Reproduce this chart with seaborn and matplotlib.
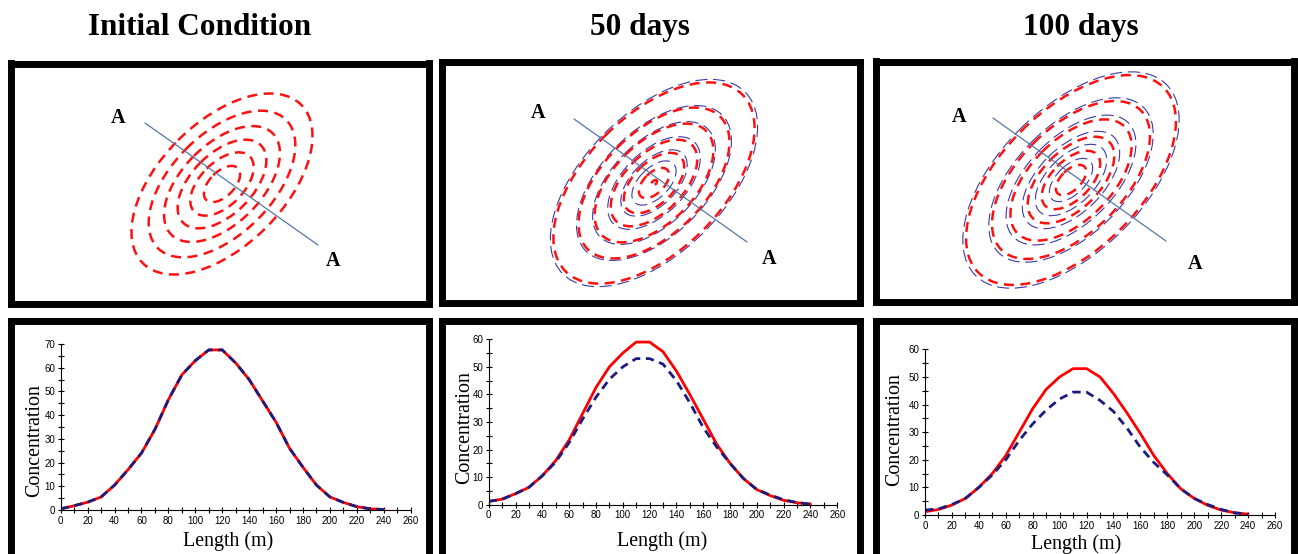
import matplotlib
matplotlib.use("Agg")
import matplotlib.pyplot as plt
from matplotlib.patches import Ellipse
from matplotlib.ticker import MultipleLocator
import seaborn as sns

# ---- data ----
titles = ["Initial Condition", "50 days", "100 days"]

# concentration profiles along section A-A
length_m = [0, 10, 20, 30, 40, 50, 60, 70, 80, 90, 100, 110, 120,
            130, 140, 150, 160, 170, 180, 190, 200, 210, 220, 230, 240]
init_red = [0.5, 1.8, 3.3, 5.5, 10.5, 17, 24, 34, 46.5, 57, 63, 67.5, 67.5,
            62, 55, 46, 37, 26, 18, 10.5, 5.5, 3.2, 1.4, 0.5, 0.2]
init_blue = [0.5, 1.8, 3.3, 5.5, 10.5, 17, 24, 34, 46.5, 57, 63, 67.5, 67.5,
             62, 55, 46, 37, 26, 18, 10.5, 5.5, 3.2, 1.4, 0.5, 0.2]
d50_red = [1.2, 2, 4, 6.3, 10.5, 16, 23.5, 33, 42.5, 50, 55, 59, 59,
           55.5, 48.5, 40, 31, 22, 15, 9.5, 5.5, 3.3, 1.6, 0.7, 0.2]
d50_blue = [1.2, 2, 4, 6.3, 10.5, 15.5, 22.5, 31, 39, 45.5, 50, 53, 53,
            51, 45, 37, 28, 21, 15, 9.5, 5.5, 3.5, 1.8, 0.8, 0.2]
d100_red = [1.2, 2, 3.6, 6, 10, 15, 21.5, 30, 38.5, 45.5, 50, 53, 53,
            50, 44, 37, 29.5, 21.5, 15, 9.5, 6, 3.5, 1.8, 0.8, 0.3]
d100_blue = [1.8, 2.2, 3.8, 6, 10, 14.5, 20, 27, 33, 38, 42, 44.5, 44.5,
             41.5, 37.5, 31.5, 24.5, 19, 14.5, 9.5, 6, 3.8, 2, 0.8, 0.3]
y_max = [70, 60, 60]

# plume contour maps (image pixel coordinates)
plume_cx = [222, 654, 1071]
plume_cy = [184, 183, 180]
plume_a = [112, 125, 135]      # semi-major axis of outer contour
plume_b = [62, 68, 72]         # semi-minor axis of outer contour
plume_angle = [-45, -45, -45]
red_scales = [[1.0, 0.81, 0.64, 0.49, 0.35, 0.20],
              [1.0, 0.75, 0.59, 0.43, 0.30, 0.15, 0.03],
              [0.97, 0.73, 0.56, 0.40, 0.27, 0.14]]
blue_scales = [[],
               [1.03, 0.77, 0.61, 0.46, 0.33, 0.22],
               [1.0, 0.76, 0.60, 0.45, 0.33, 0.20]]
section_x = [[145, 318], [574, 747], [993, 1166]]
section_y = [[123, 245], [119, 242], [118, 241]]
label_a_x = [[118, 333], [538, 769], [959, 1195]]
label_a_y = [[118, 261], [113, 259], [117, 264]]

# ---- layout (pixels) ----
W, H = 1298, 554
sns.set_theme(style="white")
plt.rcParams["font.family"] = ["Liberation Serif", "DejaVu Serif"]
plt.rcParams["text.color"] = "black"
plt.rcParams["axes.labelcolor"] = "black"
plt.rcParams["xtick.color"] = "black"
plt.rcParams["ytick.color"] = "black"

fig = plt.figure(figsize=(W / 100, H / 100), dpi=100)
fig.patch.set_facecolor("white")


def px_axes(x0, y0, x1, y1, **kw):
    return fig.add_axes([x0 / W, 1 - y1 / H, (x1 - x0) / W, (y1 - y0) / H], **kw)


def frame(ax):
    ax.set_xticks([])
    ax.set_yticks([])
    ax.set_facecolor("white")
    for s in ax.spines.values():
        s.set_visible(True)
        s.set_color("black")
        s.set_linewidth(5.0)
        s.set_capstyle("projecting")


top_boxes = [(10.5, 63.5, 428.5, 303.5), (442.5, 61.5, 860.5, 302.5),
             (875.5, 61.5, 1293.5, 301.5)]
bot_boxes = [(10.5, 320.5, 428.5, 620), (442.5, 321, 860.5, 620),
             (875.5, 321, 1293.5, 620)]
plot_boxes = [(60.7, 344, 410.7, 510), (488.7, 339.3, 837.3, 504.7),
              (925, 349.3, 1275, 515)]
title_x = [200, 640, 1081]
ylab_pos = [(-0.046, 0.416), (-0.043, 0.464), (-0.061, 0.513)]
xlab_pos = [(0.478, -0.127), (0.497, -0.16), (0.431, -0.115)]

profiles = [(init_red, init_blue), (d50_red, d50_blue), (d100_red, d100_blue)]

for i in range(3):
    fig.text(title_x[i] / W, 1 - 35 / H, titles[i], ha="center", va="baseline",
             fontsize=22.5, fontweight="bold", color="black")

    # contour map
    x0, y0, x1, y1 = top_boxes[i]
    ax = px_axes(x0, y0, x1, y1)
    frame(ax)
    ax.set_xlim(x0, x1)
    ax.set_ylim(y1, y0)
    for s in blue_scales[i]:
        ax.add_patch(Ellipse((plume_cx[i], plume_cy[i]), 2 * plume_a[i] * s,
                             2 * plume_b[i] * s, angle=plume_angle[i], fill=False,
                             edgecolor="#3a3aa8", lw=0.8, linestyle=(0, (11, 5))))
    for s in red_scales[i]:
        ax.add_patch(Ellipse((plume_cx[i], plume_cy[i]), 2 * plume_a[i] * s,
                             2 * plume_b[i] * s, angle=plume_angle[i], fill=False,
                             edgecolor="#ff1010", lw=1.8, linestyle=(0, (4, 2.6))))
    ax.plot(section_x[i], section_y[i], color="#5577a8", lw=0.9)
    for lx, ly in zip(label_a_x[i], label_a_y[i]):
        ax.text(lx, ly, "A", ha="center", va="center", fontsize=14.5,
                fontweight="bold", color="black")

    # profile plot
    fx0, fy0, fx1, fy1 = bot_boxes[i]
    fax = px_axes(fx0, fy0, fx1, fy1)
    frame(fax)

    px0, py0, px1, py1 = plot_boxes[i]
    pax = px_axes(px0, py0, px1, py1)
    pax.patch.set_alpha(0)
    red, blue = profiles[i]
    sns.lineplot(x=length_m, y=red, color="#ff0000", lw=2.0, ax=pax)
    sns.lineplot(x=length_m, y=blue, color="#1c1c80", lw=2.0,
                 linestyle=(0, (3.0, 2.0)), ax=pax)
    pax.set_xlim(0, 260)
    pax.set_ylim(0, y_max[i])
    pax.xaxis.set_major_locator(MultipleLocator(20))
    pax.xaxis.set_minor_locator(MultipleLocator(10))
    pax.yaxis.set_major_locator(MultipleLocator(10))
    pax.yaxis.set_minor_locator(MultipleLocator(5))
    pax.tick_params(which="both", direction="inout", color="black", width=0.8,
                    left=True, bottom=True, labelcolor="black")
    pax.tick_params(which="major", length=5, labelsize=7, pad=1.5)
    pax.tick_params(which="minor", length=4)
    for lab in pax.get_xticklabels() + pax.get_yticklabels():
        lab.set_fontfamily(["Liberation Sans", "DejaVu Sans"])
    for side in ["top", "right"]:
        pax.spines[side].set_visible(False)
    for side in ["left", "bottom"]:
        pax.spines[side].set_color("black")
        pax.spines[side].set_linewidth(0.8)
    pax.set_xlabel("Length (m)", fontsize=14.4, color="black")
    pax.set_ylabel("Concentration", fontsize=14.4, color="black")
    pax.xaxis.set_label_coords(*xlab_pos[i])
    pax.yaxis.set_label_coords(*ylab_pos[i])

fig.savefig("out.png", dpi=100, facecolor="white")
